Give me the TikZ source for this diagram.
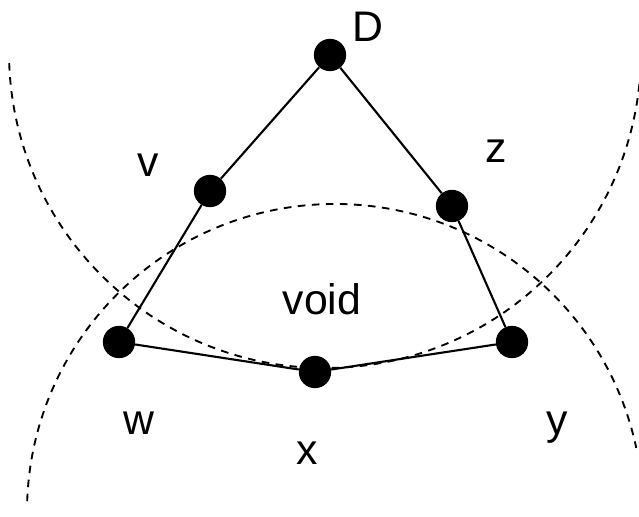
\documentclass[tikz,border=0pt]{standalone}
\usepackage{fontspec}
\setmainfont{Liberation Sans}

\tikzset{
  vertex/.style={circle, fill=black, inner sep=0pt, minimum size=0.97cm},
  lbl/.style={anchor=base, inner sep=0pt, font=\fontsize{36.5}{40}\selectfont},
  edge/.style={line width=1.8pt},
  bound/.style={line width=1.6pt, dash pattern=on 6.5pt off 5.5pt}
}

\begin{document}
\begin{tikzpicture}[x=0.03cm, y=0.03cm]

  \useasboundingbox (0,0) rectangle (639,517);

  % --- Circle centres ---
  \coordinate (O1) at (325,465);
  \coordinate (O2) at (335,5);

  % --- Dashed circles ---
  \draw[bound] (O1) ++(182:316) arc (182:356:316);
  \draw[bound] (O2) ++(178:308) arc (178:12:308);

  % --- Vertices ---
  \node[vertex] (D) at (330,462) {};
  \node[vertex] (v) at (210,326) {};
  \node[vertex] (z) at (452,311) {};
  \node[vertex] (w) at (119,175) {};
  \node[vertex] (x) at (315,145) {};
  \node[vertex] (y) at (512,175) {};

  % --- Cycle ---
  \draw[edge] (D) -- (v) -- (w) -- (x) -- (y) -- (z) -- (D);

  % --- Labels ---
  \node[lbl] (lD) at (368,475) {D};
  \node[lbl] (lv) at (148,340) {v};
  \node[lbl] (lz) at (496,354) {z};
  \node[lbl] (lvoid) at (322,202) {void};
  \node[lbl] (lw) at (139,82) {w};
  \node[lbl] (lx) at (307,52) {x};
  \node[lbl] (ly) at (557,82) {y};

\end{tikzpicture}
\end{document}
